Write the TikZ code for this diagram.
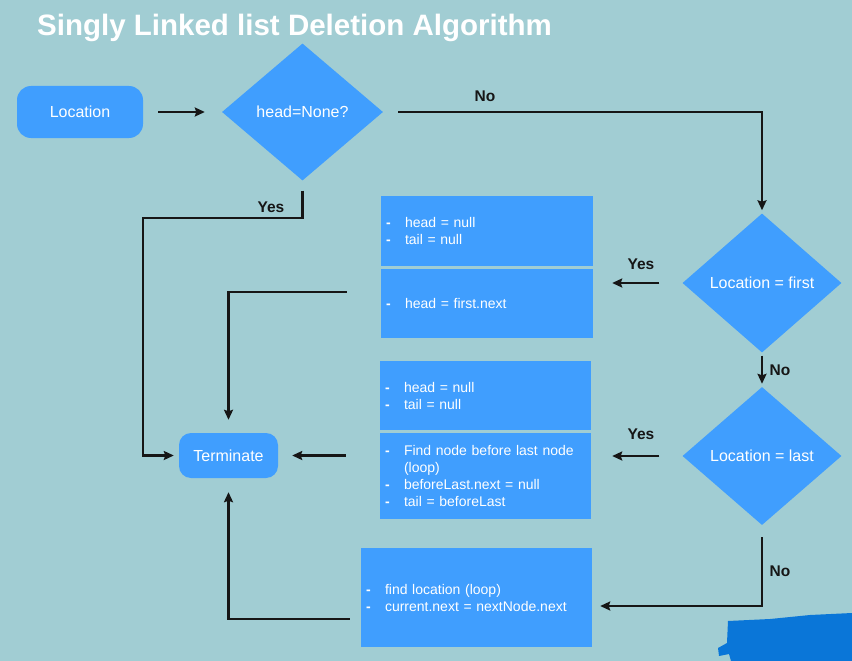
\documentclass[tikz,border=0pt]{standalone}
\usepackage{fontspec}
\setmainfont{Liberation Sans}
\usetikzlibrary{shapes.geometric,arrows.meta,calc}
\definecolor{bgteal}{RGB}{161,205,211}
\definecolor{boxblue}{RGB}{64,158,254}
\definecolor{ink}{RGB}{22,22,22}
\definecolor{scrib}{RGB}{10,118,216}
\newcommand{\bitem}[1]{\makebox[19pt][l]{\textbf{-}}#1}
\begin{document}
\begin{tikzpicture}[x=1pt,y=-1pt,
  termbox/.style={fill=boxblue, text=white, inner sep=0pt,
    font=\fontsize{16}{19}\selectfont},
  decision/.style={diamond, fill=boxblue, text=white, inner sep=0pt,
    font=\fontsize{16}{19}\selectfont},
  stepbox/.style={rectangle, fill=boxblue, text=white, inner ysep=0pt, inner xsep=5pt,
    align=left, font=\fontsize{14}{17}\selectfont},
  lbl/.style={text=ink, inner sep=0pt, font=\bfseries\fontsize{15.5}{18}\selectfont},
  arr/.style={draw=ink, line width=2.1pt, -{Stealth[length=10pt,width=9pt,inset=1.5pt]}},
  plain/.style={draw=ink, line width=2.1pt}
]
\useasboundingbox (0,0) rectangle (852,661);
\fill[bgteal] (0,0) rectangle (852,661);

% title
\node[anchor=base west, inner sep=0pt, text=white,
  font=\bfseries\fontsize{29.5}{34}\selectfont] (title) at (37,36)
  {Singly Linked list Deletion Algorithm};

% nodes
\node[termbox, rounded corners=14pt, minimum width=126pt, minimum height=52pt]
  (loc) at (80,112) {Location};
\node[decision, minimum width=161pt, minimum height=137pt] (d1) at (302.5,112) {head=None?};
\node[decision, minimum width=159pt, minimum height=139pt] (d2) at (762,283) {Location = first};
\node[decision, minimum width=159pt, minimum height=138pt] (d3) at (762,456) {Location = last};
\node[termbox, rounded corners=12pt, minimum width=99pt, minimum height=45pt]
  (term) at (228.5,455.5) {Terminate};

\node[stepbox, text width=202pt, minimum height=70pt] (bA) at (487,231)
  {\bitem{head = null}\\\bitem{tail = null}};
\node[stepbox, text width=202pt, minimum height=69pt] (bB) at (487,303.5)
  {\bitem{head = first.next}};
\node[stepbox, text width=201pt, minimum height=69pt] (bC) at (485.5,395.5)
  {\bitem{head = null}\\\bitem{tail = null}};
\node[stepbox, text width=201pt, minimum height=86pt] (bD) at (485.5,476)
  {\bitem{Find node before last node}\\\hspace*{19pt}(loop)\\\bitem{beforeLast.next = null}\\\bitem{tail = beforeLast}};
\node[stepbox, text width=221pt, minimum height=99pt] (bE) at (476.5,597.5)
  {\bitem{find location (loop)}\\\bitem{current.next = nextNode.next}};

\coordinate (c1) at (143,218);

% connectors
\draw[arr, shorten <=15pt, shorten >=17pt] (loc.east) -- (d1.west);
\draw[arr, shorten <=15pt, shorten >=3pt] (d1.east) -| (d2.north);
\draw[arr, shorten <=3pt, shorten >=3pt] (d2.south) -- (d3.north);
\draw[arr, shorten <=23pt, shorten >=19pt] (d2.west) -- (d2.west -| bB.east);
\draw[arr, shorten <=23pt, shorten >=21pt] (d3.west) -- (d3.west -| bD.east);
\draw[arr, shorten <=12pt, shorten >=8pt] (d3.south) |- ([yshift=-8.5pt]bE.east);
\draw[arr, shorten <=10pt, shorten >=5pt] (d1.south) |- (c1) |- (term.west);
\draw[arr, shorten <=34pt, shorten >=13pt] ([yshift=11.5pt]bB.west) -| (term.north);
\draw[arr, shorten <=34pt, shorten >=14pt] (bD.west |- term.east) -- (term.east);
\draw[arr, shorten <=11pt, shorten >=14pt] ([yshift=-21.5pt]bE.west) -| (term.south);

% labels
\node[lbl] (no1) at (485,96) {No};
\node[lbl] (yes1) at (271,207) {Yes};
\node[lbl] (yes2) at (641,264) {Yes};
\node[lbl] (no2) at (780,370) {No};
\node[lbl] (yes3) at (641,434) {Yes};
\node[lbl] (no3) at (780,571) {No};

% blue scribble
\fill[scrib] (728,621) -- (770,619) -- (810,615) -- (852,613)
  -- (852,661) -- (731,661) -- (729,654) -- (719,656) -- (718,648) -- (727,643) -- cycle;
\end{tikzpicture}
\end{document}
